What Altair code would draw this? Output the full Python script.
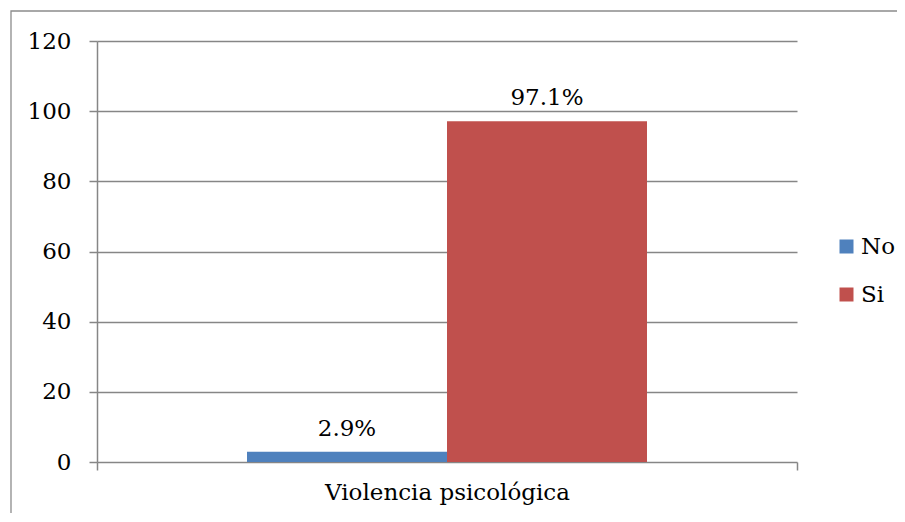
import altair as alt
import pandas as pd

categories = ["Violencia psicológica", "Violencia psicológica"]
series = ["No", "Si"]
values = [2.9, 97.1]
labels = ["2.9%", "97.1%"]
colors = ["#4F81BD", "#C0504D"]
y_ticks = [0, 20, 40, 60, 80, 100, 120]

FONT = "DejaVu Serif"
GRID = "#868686"
FS = 23

df = pd.DataFrame({"cat": categories, "serie": series, "valor": values, "etiqueta": labels})

x_enc = alt.X(
    "cat:N", title=None,
    scale=alt.Scale(paddingInner=0, paddingOuter=0),
    axis=alt.Axis(labelAngle=0, domain=False, ticks=True, tickBand="extent", tickSize=8,
                  tickColor=GRID, tickWidth=1.5, labelPadding=11, labelFont=FONT, labelLimit=600,
                  labelFontSize=FS, labelColor="black", grid=False),
)
xoff = alt.XOffset("serie:N", scale=alt.Scale(domain=series, paddingInner=0, paddingOuter=0.75))
y_enc = alt.Y(
    "valor:Q", title=None,
    scale=alt.Scale(domain=[0, 120], nice=False),
    axis=alt.Axis(values=y_ticks, grid=True, gridColor=GRID, gridWidth=1.5, domain=True,
                  domainColor=GRID, domainWidth=1.5, tickColor=GRID, tickWidth=1.5, tickSize=8,
                  labelPadding=18, labelFont=FONT, labelFontSize=FS, labelColor="black"),
)

bars = alt.Chart(df).mark_bar().encode(
    x=x_enc, xOffset=xoff, y=y_enc,
    color=alt.Color("serie:N", scale=alt.Scale(domain=series, range=colors),
                    legend=alt.Legend(title=None, orient="none", legendX=738, legendY=194,
                                      symbolType="square", symbolSize=196, symbolStrokeWidth=0,
                                      labelFont=FONT, labelFontSize=FS, labelColor="black",
                                      rowPadding=24, padding=0, symbolOffset=0, labelOffset=3)),
)

text = alt.Chart(df).mark_text(baseline="bottom", dy=-11, font=FONT, fontSize=FS, color="black").encode(
    x=alt.X("cat:N"), xOffset=alt.XOffset("serie:N"), y=alt.Y("valor:Q"), text="etiqueta:N"
)

frame_df = pd.DataFrame({"k": [0]})
frame = alt.Chart(frame_df).mark_rect(fillOpacity=0, stroke="#8C8C8C", strokeWidth=1.3).encode(
    x=alt.value(-86), x2=alt.value(900), y=alt.value(-30), y2=alt.value(600)
)

chart = alt.layer(frame, bars, text).properties(
    width=700, height=421,
    padding={"left": 89, "top": 33, "right": 100, "bottom": 51},
    autosize=alt.AutoSizeParams(type="none"),
).configure_view(stroke=None)

chart.save("out.html", embed_options={"renderer": "svg", "actions": False})
